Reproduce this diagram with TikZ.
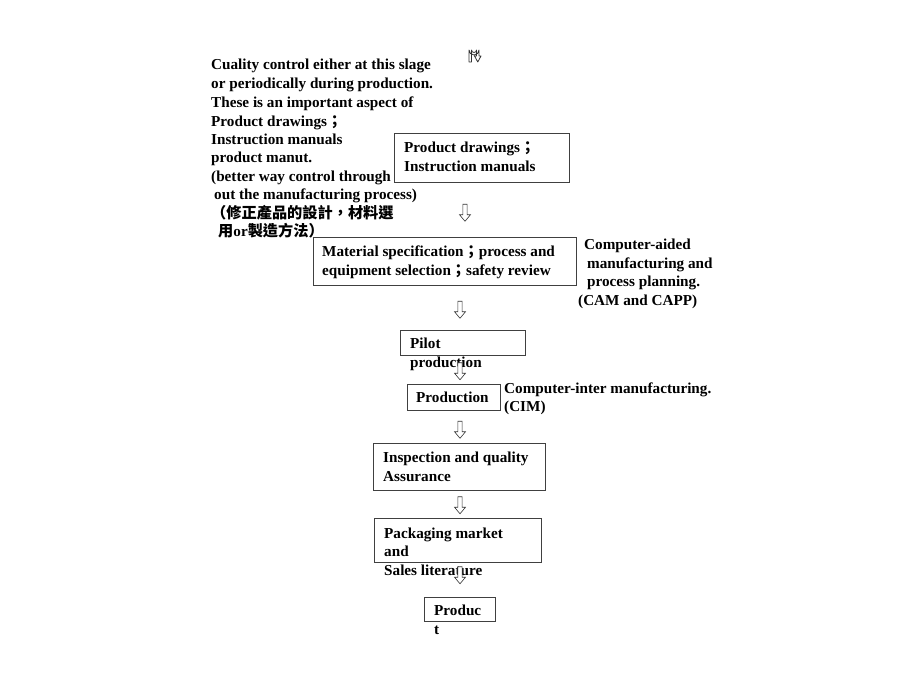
\documentclass[tikz,border=0pt]{standalone}
\usepackage{fontspec}
\setmainfont{Liberation Serif}
\newfontfamily\cjk{Noto Sans CJK TC}
\newcommand{\semi}{{\cjk ；}}
\usetikzlibrary{shapes.arrows}
\begin{document}
\begin{tikzpicture}[x=1pt,y=-1pt,
  txt/.style={anchor=base west,inner sep=0pt,font=\fontsize{15.2}{18}\selectfont\bfseries},
  boxx/.style={draw=black!75,line width=0.8pt,inner sep=0pt},
  darr/.style={draw=black!80,line width=0.6pt,shape=single arrow,shape border rotate=270,
    minimum height=17pt,minimum width=11pt,single arrow head extend=2.5pt,single arrow tip angle=80,inner sep=1.3pt,fill=white}]
\useasboundingbox (0,0) rectangle (920,690);
% boxes
\node[boxx,minimum width=175pt,minimum height=49pt] (b1) at (481.5,157.5) {};
\node[boxx,minimum width=263pt,minimum height=48pt] (b2) at (444.5,261) {};
\node[boxx,minimum width=125pt,minimum height=25pt] (b3) at (462.5,342.5) {};
\node[boxx,minimum width=93pt,minimum height=26pt] (b4) at (453.5,397) {};
\node[boxx,minimum width=172pt,minimum height=47pt] (b5) at (459,466.5) {};
\node[boxx,minimum width=167pt,minimum height=44pt] (b6) at (457.5,540) {};
\node[boxx,minimum width=71pt,minimum height=24pt] (b7) at (459.5,609) {};
% box texts
\node[txt] (t1a) at (404,152) {Product drawings\semi};
\node[txt] (t1b) at (404,171) {Instruction manuals};
\node[txt] (t2a) at (322,256) {Material specification\semi process and};
\node[txt] (t2b) at (322,275) {equipment selection\semi safety review};
\node[txt] (t3a) at (410,348) {Pilot};
\node[txt] (t3b) at (410,367) {production};
\node[txt] (t4) at (416,402) {Production};
\node[txt] (t5a) at (383,462) {Inspection and quality};
\node[txt] (t5b) at (383,481) {Assurance};
\node[txt] (t6a) at (384,538) {Packaging market};
\node[txt] (t6b) at (384,556) {and};
\node[txt] (t6c) at (384,575) {Sales literature};
\node[txt] (t7a) at (434,615) {Produc};
\node[txt] (t7b) at (434,634) {t};
% left notes
\node[txt] (l1) at (211,70) {Cuality control either at this slage};
\node[txt] (l2) at (211,89) {or periodically during production.};
\node[txt] (l3) at (211,107) {These is an important aspect of};
\node[txt] (l4) at (211,126) {Product drawings\semi};
\node[txt] (l5) at (211,144) {Instruction manuals};
\node[txt] (l6) at (211,162) {product manut.};
\node[txt] (l7) at (211,181) {(better way control through};
\node[txt] (l8) at (214,199) {out the manufacturing process)};
\node[txt] (l9) at (211,218) {{\cjk （修正產品的設計，材料選}};
\node[txt] (l10) at (218,236) {{\cjk 用}or{\cjk 製造方法）}};
% right notes
\node[txt] (r1) at (584,249) {Computer-aided};
\node[txt] (r2) at (587,268) {manufacturing and};
\node[txt] (r3) at (587,286) {process planning.};
\node[txt] (r4) at (578,305) {(CAM and CAPP)};
\node[txt] (c1) at (504,393) {Computer-inter manufacturing.};
\node[txt] (c2) at (504,411) {(CIM)};
% hollow down arrows
\node[darr] (a1) at (465,211.5) {};
\node[darr] (a2) at (460,308.5) {};
\node[darr] (a3) at (460,370) {};
\node[darr] (a4) at (460,428.5) {};
\node[darr] (a5) at (460,504) {};
\node[darr] (a6) at (460,574) {};
% top U-turn symbol
\coordinate (u) at (474,50);
\draw[black!80,line width=0.8pt,line join=round] (469,62) -- (469,50) arc[start angle=180,end angle=0,radius=5] -- (479,56) -- (481,56) -- (477.75,62) -- (474.5,56) -- (476.5,56) -- (476.5,50) arc[start angle=0,end angle=180,radius=2.5] -- (471.5,62) -- cycle;
\end{tikzpicture}
\end{document}
